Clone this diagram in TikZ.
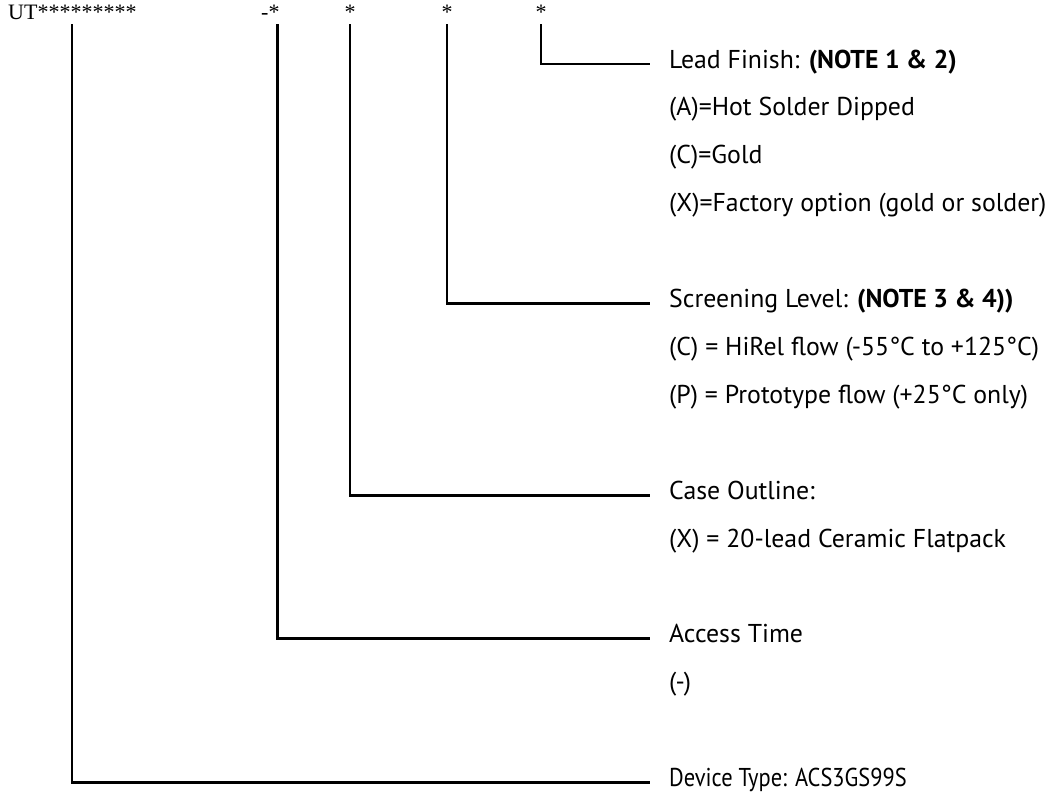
\documentclass[tikz,border=0pt]{standalone}
\usepackage{fontspec}
\setmainfont{PT Sans}
\newfontfamily\hdrfont{Liberation Serif}
\usetikzlibrary{positioning}

\begin{document}
\begin{tikzpicture}[
  x=1pt, y=-1pt,
  hdr/.style={inner xsep=0pt, inner ysep=5pt, anchor=base west, font=\hdrfont\fontsize{22}{24}\selectfont},
  lbl/.style={inner sep=0pt, anchor=base west, font=\fontsize{25.8}{28}\selectfont},
  row/.style={below=47.9pt of #1.base west, anchor=base west},
  gaprow/.style={below=95.8pt of #1.base west, anchor=base west},
  lead/.style={draw, line width=2.8pt}
]
  \useasboundingbox (0,0) rectangle (1054,796);

  % part number and its fields
  \node[hdr] (pn) at (8,19) {UT*********};
  \node[hdr] (acc) at (261,19) {-*};
  \node[hdr, anchor=base] (case) at (350,19) {*};
  \node[hdr, anchor=base] (scr) at (447,19) {*};
  \node[hdr, anchor=base] (fin) at (541,19) {*};

  % lead finish
  \node[lbl] (finT) at (669,68) {Lead Finish: \textbf{(NOTE 1 \& 2)}};
  \node[lbl, row=finT] (finA) {(A)=Hot Solder Dipped};
  \node[lbl, row=finA] (finC) {(C)=Gold};
  \node[lbl, row=finC] (finX) {(X)=Factory option (gold or solder)};

  % screening level
  \node[lbl, gaprow=finX] (scrT) {Screening Level: \textbf{(NOTE 3 \& 4))}};
  \node[lbl, row=scrT] (scrC) {(C) = HiRel flow (-55°C to +125°C)};
  \node[lbl, row=scrC] (scrP) {(P) = Prototype flow (+25°C only)};

  % case outline
  \node[lbl, gaprow=scrP] (caseT) {Case Outline:};
  \node[lbl, row=caseT] (caseX) {(X) = 20-lead Ceramic Flatpack};

  % access time
  \node[lbl, gaprow=caseX] (accT) {Access Time};
  \node[lbl, row=accT] (accD) {(-)};

  % device type
  \node[lbl, gaprow=accD] (pnT) {\scalebox{0.87}[1]{Device Type: ACS3GS99S}};

  \draw[lead] (fin.south) |- ([shift={(-19pt,4pt)}]finT.base west);
  \draw[lead] (scr.south) |- ([shift={(-19pt,4pt)}]scrT.base west);
  \draw[lead] (case.south) |- ([shift={(-19pt,4pt)}]caseT.base west);
  \draw[lead] ([xshift=7pt]acc.south) |- ([shift={(-19pt,4pt)}]accT.base west);
  \draw[lead] ([xshift=64pt]pn.south west) |- ([shift={(-19pt,4pt)}]pnT.base west);
\end{tikzpicture}
\end{document}
